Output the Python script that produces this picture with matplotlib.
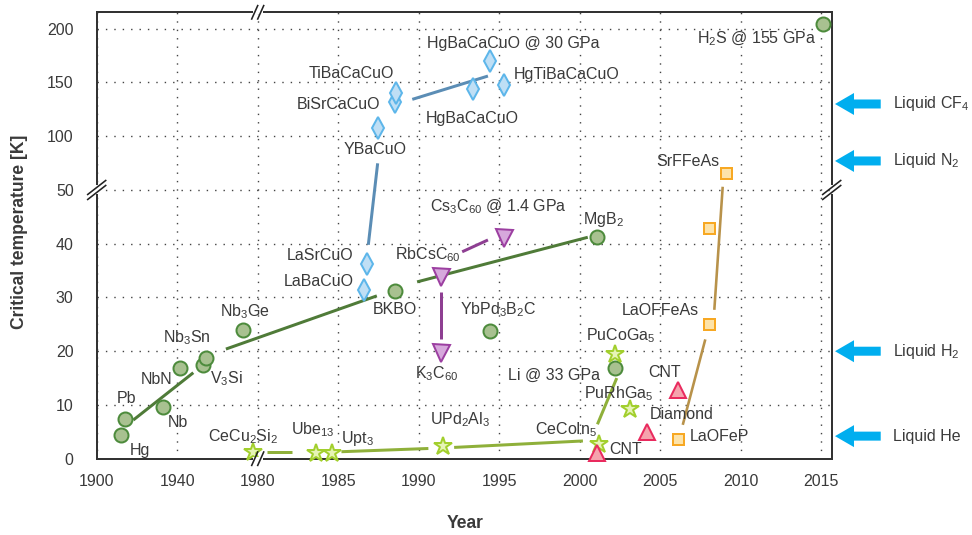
import numpy as np
import matplotlib
matplotlib.use('Agg')
import matplotlib.pyplot as plt
from matplotlib.lines import Line2D
from matplotlib.transforms import IdentityTransform

plt.rcParams['font.family'] = ['Liberation Sans', 'DejaVu Sans']
plt.rcParams['mathtext.default'] = 'regular'
plt.rcParams['mathtext.fontset'] = 'custom'
plt.rcParams['mathtext.rm'] = 'Liberation Sans'

TXT = '#3a3a3a'

# 常规超导体 (BCS)
conv_names = ['Hg', 'Pb', 'Nb', 'NbN', 'V$_3$Si', 'Nb$_3$Sn', 'Nb$_3$Ge', 'BKBO',
              'YbPd$_3$B$_2$C', 'MgB$_2$', 'Li @ 33 GPa', 'H$_2$S @ 155 GPa']
conv_year = [1911.9, 1914.2, 1933.0, 1941.4, 1952.7, 1954.3, 1972.8, 1988.5,
             1994.4, 2001.1, 2002.2, 2015.1]
conv_tc = [4.5, 7.4, 9.7, 16.8, 17.4, 18.7, 24.0, 31.2, 23.8, 41.3, 16.8, 204]

# 铜氧化物
cup_names = ['LaBaCuO', 'LaSrCuO', 'YBaCuO', 'BiSrCaCuO', 'TiBaCaCuO',
             'HgBaCaCuO', 'HgBaCaCuO @ 30 GPa', 'HgTiBaCaCuO']
cup_year = [1986.6, 1986.8, 1987.5, 1988.5, 1988.6, 1993.4, 1994.4, 1995.3]
cup_tc = [31.3, 36.2, 108, 132, 140.5, 144, 170, 147.6]

# 富勒烯
ful_names = ['K$_3$C$_{60}$', 'RbCsC$_{60}$', 'Cs$_3$C$_{60}$ @ 1.4 GPa']
ful_year = [1991.4, 1991.4, 1995.3]
ful_tc = [19.6, 33.9, 41.0]

# 重费米子
hf_names = ['CeCu$_2$Si$_2$', 'Ube$_{13}$', 'Upt$_3$', 'UPd$_2$Al$_3$',
            'CeCoIn$_5$', 'PuCoGa$_5$', 'PuRhGa$_5$']
hf_year = [1977.8, 1983.6, 1984.6, 1991.5, 2001.2, 2002.2, 2003.1]
hf_tc = [1.3, 1.1, 1.1, 2.4, 2.7, 19.5, 9.2]

# 碳基
carb_names = ['CNT', 'Diamond', 'CNT']
carb_year = [2001.1, 2004.2, 2006.1]
carb_tc = [1.0, 5.0, 12.8]

# 铁基
fe_names = ['LaOFeP', 'LaOFFeAs', '', 'SrFFeAs']
fe_year = [2006.1, 2008.05, 2008.05, 2009.1]
fe_tc = [3.7, 25.1, 43.0, 65.5]

# 趋势线 (年份, Tc)
conv_trend = [([1918.2, 1948.0], [7.2, 16.0]),
              ([1964.2, 1987.4], [20.4, 30.3]),
              ([1989.9, 2000.5], [32.9, 41.2])]
cup_trend = [([1986.87, 1987.45], [39.8, 74.8]),
             ([1989.6, 1994.3], [134.3, 156])]
ful_trend = [([1991.4, 1991.4], [22.2, 31.1]),
             ([1992.7, 1994.3], [38.5, 40.7])]
hf_trend = [([1980.56, 1982.1], [1.2, 1.2]),
            ([1985.2, 1990.6], [1.3, 1.9]),
            ([1992.2, 2000.2], [2.1, 3.3]),
            ([2001.1, 2002.3], [6.4, 15.0])]
fe_trend = [([2006.4, 2007.8], [6.3, 22.2]),
            ([2008.36, 2008.88], [27.7, 53.0])]

# 冷却剂沸点
coolant_names = ['Liquid CF$_4$', 'Liquid N$_2$', 'Liquid H$_2$', 'Liquid He']
coolant_t = [130, 77, 20, 4.2]

xticks = [1900, 1940, 1980, 1985, 1990, 1995, 2000, 2005, 2010, 2015]
yticks = [0, 10, 20, 30, 40, 50, 100, 150, 200]


# 分段坐标: 1980 年前 40 年一格, 之后 5 年一格; 50 K 以下 10 K 一格, 以上 50 K 一格
def fx(x):
    x = np.asarray(x, dtype=float)
    return np.where(x <= 1980, (x - 1900) / 40.0, 2 + (x - 1980) / 5.0)


def fx_inv(u):
    u = np.asarray(u, dtype=float)
    return np.where(u <= 2, 1900 + 40.0 * u, 1980 + 5.0 * (u - 2))


def fy(t):
    t = np.asarray(t, dtype=float)
    return np.where(t <= 50, t / 10.0, 5 + (t - 50) / 50.0)


def fy_inv(v):
    v = np.asarray(v, dtype=float)
    return np.where(v <= 5, 10.0 * v, 50 + 50.0 * (v - 5))


fig = plt.figure(figsize=(972 / 72, 535 / 72), dpi=72)
ax = fig.add_axes([96.7 / 972, 76.3 / 535, 735 / 972, 446.4 / 535])
ax.set_xscale('function', functions=(fx, fx_inv))
ax.set_yscale('function', functions=(fy, fy_inv))
ax.set_xlim(1900, 2015.65)
ax.set_ylim(0, 215.3)
ax.set_xticks(xticks)
ax.set_xticklabels([str(t) for t in xticks])
ax.set_yticks(yticks)
ax.set_yticklabels([str(t) for t in yticks])
ax.minorticks_off()
ax.tick_params(axis='x', length=0, pad=15, labelsize=16, labelcolor=TXT)
ax.tick_params(axis='y', length=0, pad=23, labelsize=16, labelcolor=TXT)
ax.grid(True, ls=(0, (1, 5)), lw=1.4, color='#444444')
for sp in ax.spines.values():
    sp.set_linewidth(2)
    sp.set_color('#333333')


def draw_lines(segs, color, lw=3):
    for xs, ys in segs:
        ax.plot(xs, ys, color=color, lw=lw, solid_capstyle='butt', zorder=3)


draw_lines(conv_trend, '#4f7b38')
draw_lines(cup_trend, '#5b8db5')
draw_lines(ful_trend, '#8e3f92')
draw_lines(hf_trend, '#8fb03a')
draw_lines(fe_trend, '#b8924a', lw=2.6)

ax.plot(conv_year, conv_tc, 'o', ms=14, mfc='#a8c190', mec='#4d8b3c', mew=2, ls='none', zorder=5, clip_on=False)
ax.plot(cup_year, cup_tc, 'd', ms=15, mfc='#bfdff5', mec='#5db6ea', mew=2, ls='none', zorder=5)
ax.plot(ful_year, ful_tc, 'v', ms=17, mfc='#d6a8dc', mec='#9c3fa1', mew=2, ls='none', zorder=5)
ax.plot(hf_year, hf_tc, '*', ms=19, mfc='#e6f4b6', mec='#a2cf2d', mew=2, ls='none', zorder=5, clip_on=False)
ax.plot(carb_year, carb_tc, '^', ms=16, mfc='#f5a3ad', mec='#e92a5e', mew=2, ls='none', zorder=5, clip_on=False)
ax.plot(fe_year, fe_tc, 's', ms=11, mfc='#fde3a9', mec='#f7a823', mew=2, ls='none', zorder=5)

# 标注偏移 (pt), 对齐方式
conv_off = [(19, -16, 'center'), (1, 20, 'center'), (15, -16, 'center'), (-23, -11, 'center'),
            (24, -13, 'center'), (-19, 21, 'center'), (2, 18, 'center'), (0, -18, 'center'),
            (9, 21, 'center'), (6, 17, 'center'), (-15, -7, 'right'), (-7, -14, 'right')]
cup_off = [(-10, 9, 'right'), (-14, 9, 'right'), (-3, -22, 'center'), (-14, -3, 'right'),
           (-2, 19, 'right'), (-1, -30, 'center'), (24, 17, 'center'), (10, 11, 'left')]
ful_off = [(-5, -20, 'center'), (-13, 22, 'center'), (-6, 32, 'center')]
hf_off = [(-10, 15, 'center'), (-3, 23, 'center'), (26, 14, 'center'), (17, 26, 'center'),
          (-33, 15, 'center'), (5, 18, 'center'), (-11, 16, 'center')]
carb_off = [(28, 4, 'center'), (2, 17, 'left'), (-13, 17, 'center')]
fe_off = [(12, 2, 'left'), (-10, 13, 'right'), (0, 0, 'center'), (-7, 12, 'right')]


def label(names, xs, ys, offs):
    for n, x, y, (dx, dy, ha) in zip(names, xs, ys, offs):
        if not n:
            continue
        ax.annotate(n, (x, y), xytext=(dx, dy), textcoords='offset points',
                    ha=ha, va='center', fontsize=16, color=TXT, zorder=6,
                    annotation_clip=False)


label(conv_names, conv_year, conv_tc, conv_off)
label(cup_names, cup_year, cup_tc, cup_off)
label(ful_names, ful_year, ful_tc, ful_off)
label(hf_names, hf_year, hf_tc, hf_off)
label(carb_names, carb_year, carb_tc, carb_off)
label(fe_names, fe_year, fe_tc, fe_off)

# 右侧冷却剂箭头
for n, t in zip(coolant_names, coolant_t):
    ax.annotate('', xy=(1.0045, t), xycoords=('axes fraction', 'data'),
                xytext=(1.0667, t), textcoords=('axes fraction', 'data'),
                arrowprops=dict(arrowstyle='simple,head_length=19,head_width=22,tail_width=9',
                                mutation_scale=1, fc='#00aeef', ec='none',
                                shrinkA=0, shrinkB=0),
                annotation_clip=False)
    ax.annotate(n, xy=(1.0833, t), xycoords=('axes fraction', 'data'),
                ha='left', va='center', fontsize=16, color=TXT, annotation_clip=False)

fig.text(20 / 972, 1 - 232 / 535, 'Critical temperature [K]', rotation=90,
         ha='center', va='center', fontsize=17.5, fontweight='bold', color=TXT)
fig.text(465 / 972, 1 - 524 / 535, 'Year', ha='center', va='center',
         fontsize=17.5, fontweight='bold', color=TXT)

# 断轴标记
H = fig.bbox.height


def brk(cx, cy, horiz):
    if horiz:
        fig.add_artist(Line2D([cx - 3, cx + 3], [cy, cy], transform=IdentityTransform(),
                              color='white', lw=4, zorder=10))
        for d in (-3, 3):
            fig.add_artist(Line2D([cx + d - 3, cx + d + 3], [cy - 6.7, cy + 6.7],
                                  transform=IdentityTransform(), color='#222222', lw=1.6, zorder=11))
    else:
        fig.add_artist(Line2D([cx, cx], [cy - 2.5, cy + 2.5], transform=IdentityTransform(),
                              color='white', lw=4, zorder=10))
        for d in (-2.5, 2.5):
            fig.add_artist(Line2D([cx - 9, cx + 9], [cy + d - 7, cy + d + 7],
                                  transform=IdentityTransform(), color='#222222', lw=1.6, zorder=11))


xb, _ = ax.transData.transform((1980, 10))
_, yb = ax.transData.transform((1950, 50))
x0, y0 = ax.transAxes.transform((0, 0))
x1, y1 = ax.transAxes.transform((1, 1))
brk(xb, y1, True)
brk(xb, y0, True)
brk(x0, yb, False)
brk(x1, yb, False)

fig.savefig('out.png', dpi=72)
